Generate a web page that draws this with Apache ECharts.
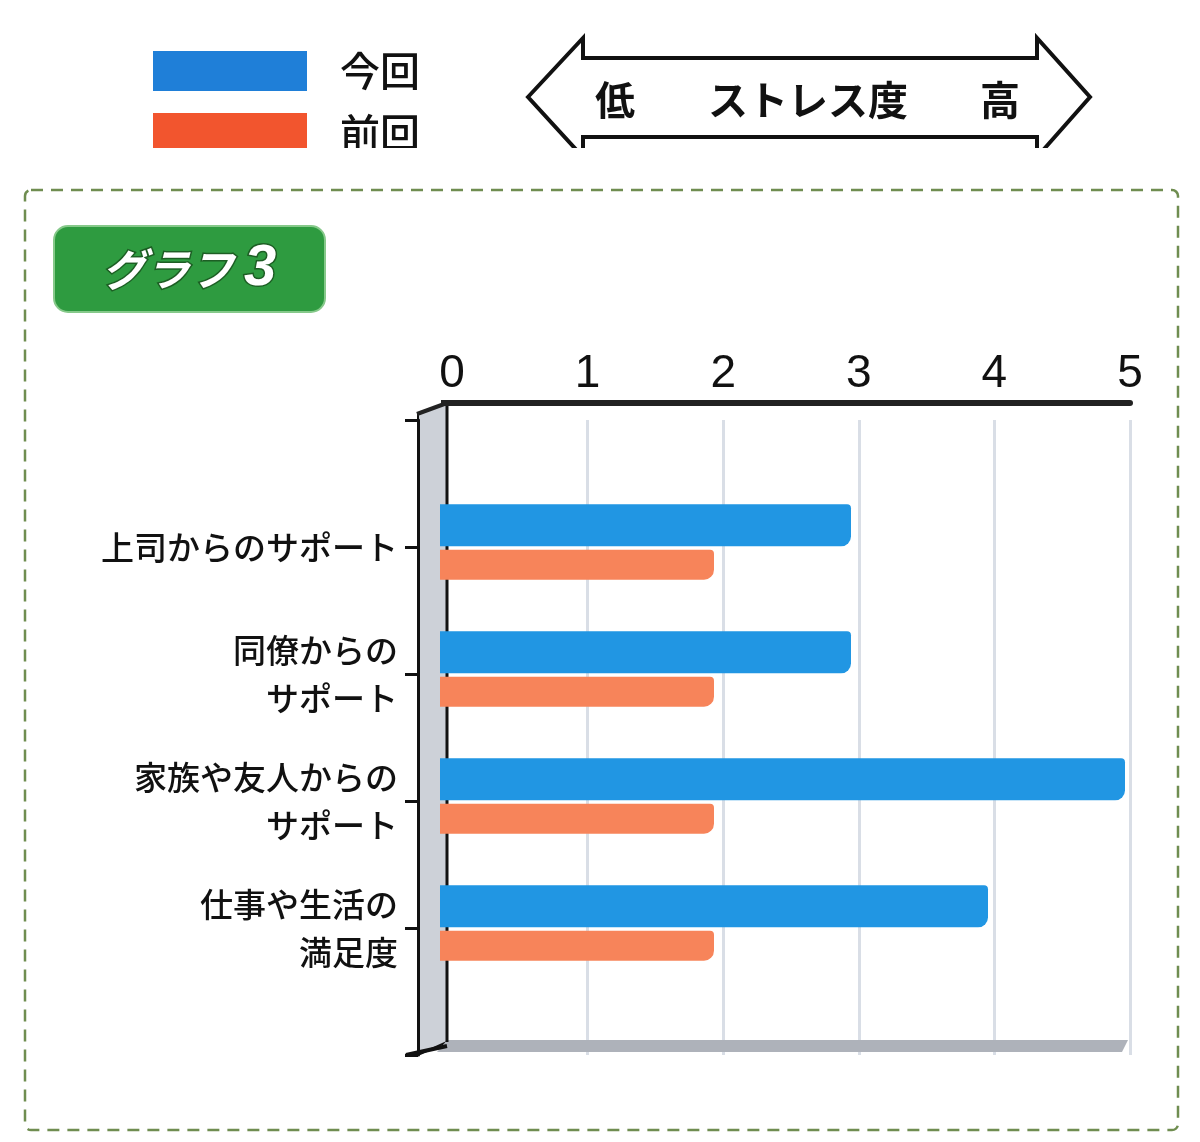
<!DOCTYPE html>
<html>
<head>
<meta charset="utf-8">
<script src="https://cdn.jsdelivr.net/npm/echarts@6/dist/echarts.min.js"></script>
<style>
  html, body { margin: 0; padding: 0; background: #fff; }
  #chart { width: 1200px; height: 1142px; }
</style>
</head>
<body>
<div id="chart"></div>
<script>
// data
const categories = ['上司からのサポート', '同僚からの\nサポート', '家族や友人からの\nサポート', '仕事や生活の\n満足度'];
const currentValues = [3, 3, 5, 4];   // 今回
const previousValues = [2, 2, 2, 2];  // 前回

const FONT = "'Noto Sans CJK JP', 'Noto Sans', sans-serif";
const axisY = 403;   // top axis line (3D front edge)
const wallOuter = 418;
const wallX = 447;   // inner edge of the side wall
const floorY = 1042;

// front plane: axis labels, gridlines, category ticks
const frontGrid = { left: 452, right: 70, top: 420, bottom: 87 };
// back plane of the 3D chart, where the bars sit (shifted by the perspective)
const barGrid = { left: 440, right: 75, top: 415, bottom: 92 };

// blank slots top and bottom so the categories sit on the ticks like the 3D chart
const axisCats = [''].concat(categories, ['']);
const pad = arr => [null].concat(arr, [null]);

const chart = echarts.init(document.getElementById('chart'), null, { renderer: 'canvas' });

const titleText = { color: '#fff', fontWeight: 'bold', fontStyle: 'italic', textBorderColor: '#1d5e24', textBorderWidth: 3, lineHeight: 62 };

const option = {
  animation: false,
  textStyle: { fontFamily: FONT },
  title: {
    text: '{a|グラフ}{b|3}',
    left: 55,
    top: 225,
    padding: [13, 47, 13, 47],
    backgroundColor: '#2e9b40',
    borderColor: '#86c98a',
    borderWidth: 2,
    borderRadius: 14,
    textStyle: {
      rich: {
        a: Object.assign({ fontSize: 44 }, titleText),
        b: Object.assign({ fontSize: 58, fontFamily: 'Liberation Sans', padding: [0, 0, 0, 10] }, titleText)
      }
    }
  },
  legend: {
    orient: 'vertical',
    left: 148,
    top: 46,
    icon: 'rect',
    itemWidth: 154,
    itemHeight: 40,
    itemGap: 22,
    selectedMode: false,
    textStyle: { fontSize: 40, fontWeight: 500, color: '#111', padding: [0, 0, 8, 28] },
    data: [
      { name: '今回', itemStyle: { color: '#1f7fd8' } },
      { name: '前回', itemStyle: { color: '#f2552e' } }
    ]
  },
  grid: [
    Object.assign({}, frontGrid),
    Object.assign({}, barGrid)
  ],
  xAxis: [
    {
      type: 'value',
      gridIndex: 0,
      position: 'top',
      offset: frontGrid.top - axisY,
      min: 0,
      max: 5,
      interval: 1,
      axisLine: { show: true, lineStyle: { color: '#222', width: 6 } },
      axisTick: { show: false },
      splitLine: { show: true, showMinLine: false, lineStyle: { color: '#d9dee6', width: 3 } },
      axisLabel: {
        fontSize: 46,
        fontFamily: "'Liberation Sans Narrow', 'Liberation Sans', sans-serif",
        color: '#111',
        margin: 6
      }
    },
    {
      type: 'value',
      gridIndex: 1,
      min: 0,
      max: 5,
      show: false
    }
  ],
  yAxis: [
    {
      type: 'category',
      gridIndex: 0,
      inverse: true,
      boundaryGap: false,
      data: axisCats,
      offset: frontGrid.left - wallOuter,
      axisLine: { onZero: false, lineStyle: { color: '#111', width: 3 } },
      axisTick: { length: 13, interval: 0, lineStyle: { color: '#111', width: 3 } },
      axisLabel: {
        interval: 0,
        margin: 20,
        fontSize: 33,
        fontWeight: 500,
        lineHeight: 48,
        color: '#111',
        align: 'right'
      },
      splitLine: { show: false }
    },
    {
      type: 'category',
      gridIndex: 1,
      inverse: true,
      boundaryGap: false,
      data: axisCats,
      show: false
    }
  ],
  series: [
    {
      name: '今回',
      type: 'bar',
      xAxisIndex: 1,
      yAxisIndex: 1,
      data: pad(currentValues),
      barWidth: 42,
      barGap: '8%',
      z: 3,
      itemStyle: { color: '#2196e3', borderRadius: [0, 4, 10, 0] }
    },
    {
      name: '前回',
      type: 'bar',
      xAxisIndex: 1,
      yAxisIndex: 1,
      data: pad(previousValues),
      barWidth: 30,
      z: 3,
      itemStyle: { color: '#f7845a', borderRadius: [0, 4, 10, 0] }
    }
  ]
};

chart.setOption(option);

// decoration: 3D frame, arrow, dashed box
const x5 = chart.convertToPixel({ xAxisIndex: 0 }, 5);
const bottom = 1142 - frontGrid.bottom;

chart.setOption({
  graphic: [
    // dashed green border
    {
      type: 'rect', z: 0,
      shape: { x: 25, y: 190, width: 1153, height: 940, r: 6 },
      style: { fill: 'none', stroke: '#6f8d50', lineWidth: 2.5, lineDash: [12, 8] }
    },
    // side wall
    {
      type: 'polygon', z: 0,
      shape: { points: [[wallOuter, axisY + 11], [wallX, axisY], [wallX, floorY], [wallOuter, bottom]] },
      style: { fill: '#cdd1d8', stroke: '#111', lineWidth: 2 }
    },
    // floor
    {
      type: 'polygon', z: 0,
      shape: { points: [[wallX, floorY - 2], [x5 - 2, floorY - 2], [x5 - 8, floorY + 10], [wallX - 10, floorY + 10]] },
      style: { fill: '#aeb2ba' }
    },
    // inner wall edge
    {
      type: 'line', z: 0,
      shape: { x1: wallX, y1: axisY, x2: wallX, y2: floorY },
      style: { stroke: '#111', lineWidth: 3 }
    },
    // corner edges
    {
      type: 'line', z: 5,
      shape: { x1: wallOuter - 1, y1: axisY + 11, x2: wallX, y2: axisY },
      style: { stroke: '#222', lineWidth: 4 }
    },
    {
      type: 'line', z: 5,
      shape: { x1: wallX - 6, y1: axisY, x2: frontGrid.left + 2, y2: axisY },
      style: { stroke: '#222', lineWidth: 6 }
    },
    {
      type: 'line', z: 5,
      shape: { x1: wallOuter - 12, y1: bottom, x2: wallX, y2: floorY + 4 },
      style: { stroke: '#111', lineWidth: 4 }
    },
    // stress arrow
    {
      type: 'polygon', z: 5,
      shape: { points: [[528, 97], [583, 38], [583, 58], [1037, 58], [1037, 38], [1090, 97], [1037, 157], [1037, 137], [583, 137], [583, 157]] },
      style: { fill: '#fff', stroke: '#111', lineWidth: 4 }
    },
    { type: 'text', z: 6, style: { text: '低', x: 615, y: 100, fill: '#111', font: 'bold 40px ' + FONT, align: 'center', verticalAlign: 'middle' } },
    { type: 'text', z: 6, style: { text: 'ストレス度', x: 808, y: 100, fill: '#111', font: 'bold 40px ' + FONT, align: 'center', verticalAlign: 'middle' } },
    { type: 'text', z: 6, style: { text: '高', x: 1000, y: 100, fill: '#111', font: 'bold 40px ' + FONT, align: 'center', verticalAlign: 'middle' } },
    // the scan is cut off under the legend row
    {
      type: 'rect', z: 100,
      shape: { x: 0, y: 148, width: 1200, height: 36 },
      style: { fill: '#fff' }
    }
  ]
});
</script>
</body>
</html>
